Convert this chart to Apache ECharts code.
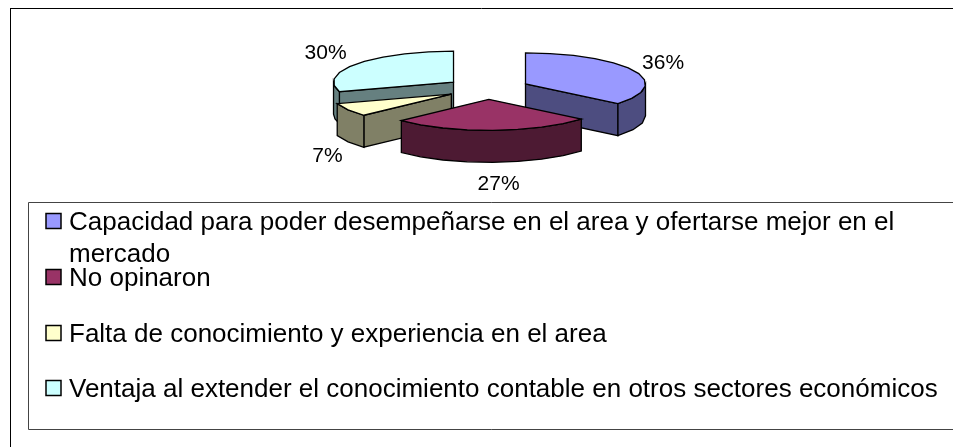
<!DOCTYPE html>
<html>
<head>
<meta charset="utf-8">
<style>
  html, body { margin: 0; padding: 0; background: #fff; }
  #chart { width: 953px; height: 447px; }
</style>
<script src="https://cdn.jsdelivr.net/npm/echarts@6/dist/echarts.min.js"></script>
</head>
<body>
<div id="chart"></div>
<script>
const categories = [
  'Capacidad para poder desempeñarse en el area y ofertarse mejor en el\nmercado',
  'No opinaron',
  'Falta de conocimiento y experiencia en el area',
  'Ventaja al extender el conocimiento contable en otros sectores económicos'
]
const shares = [36, 27, 7, 30]
const topColors = ['#9999ff', '#993366', '#ffffcc', '#ccffff']
const wallColors = ['#4d4d80', '#4d1a33', '#808066', '#668080']
const drawOrder = [3, 0, 2, 1] // back to front
const legendRows = [221, 277, 333, 388]
const labelNudge = [[0, 1], [5, 2], [7, 4], [-5, 1]]

const FONT = '"Liberation Sans", Arial, sans-serif'
const cx = 487.5
const cy = 88.5
const rx = 120
const ry = 31
const depth = 32
const explode = 42

const total = shares.reduce((a, b) => a + b, 0)
const toAngle = v => (v / total) * Math.PI * 2
const startAngles = shares.map((_, i) => toAngle(shares.slice(0, i).reduce((a, b) => a + b, 0)))

// a point of the tilted ellipse, angle counted clockwise from 12 o'clock
const rim = (ax, ay, a, dy = 0) => [ax + rx * Math.sin(a), ay - ry * Math.cos(a) + dy]

const arcPoints = (ax, ay, a0, a1, dy = 0) => {
  const n = Math.max(1, Math.round((a1 - a0) / (Math.PI / 15)))
  const pts = []
  for (let i = 0; i <= n; i++) pts.push(rim(ax, ay, a0 + ((a1 - a0) * i) / n, dy))
  return pts
}

const renderSlice = idx => (params, api) => {
  const a0 = startAngles[idx]
  const a1 = a0 + toAngle(api.value(0))
  const mid = (a0 + a1) / 2
  const ax = cx + explode * Math.sin(mid)
  const ay = cy - explode * (ry / rx) * Math.cos(mid)
  const children = []
  const style = { fill: wallColors[idx], stroke: '#000', lineWidth: 1.3 }

  // cut face that looks towards the viewer
  const cutAngles = [a0, a1].filter(a => Math.abs(Math.sin(a)) > 0.01)
  cutAngles.forEach(a => {
    const sideVisible = a === a1 ? a < Math.PI : a > Math.PI
    if (!sideVisible) return
    const p = rim(ax, ay, a)
    children.push({
      type: 'polygon',
      shape: { points: [[ax, ay], p, [p[0], p[1] + depth], [ax, ay + depth]] },
      style
    })
  })

  // outer wall, only the front half of the ellipse
  const w0 = Math.max(a0, Math.PI / 2)
  const w1 = Math.min(a1, (Math.PI * 3) / 2)
  if (w1 > w0) {
    const upper = arcPoints(ax, ay, w0, w1)
    const lower = arcPoints(ax, ay, w0, w1, depth).reverse()
    children.push({ type: 'polygon', shape: { points: upper.concat(lower) }, style })
  }

  // top face
  children.push({
    type: 'polygon',
    shape: { points: [[ax, ay]].concat(arcPoints(ax, ay, a0, a1)) },
    style: { fill: topColors[idx], stroke: '#000', lineWidth: 1.3 }
  })

  // percent label outside the rim
  const front = Math.cos(mid) < 0 ? depth : 0
  children.push({
    type: 'text',
    style: {
      x: ax + (rx + 32) * Math.sin(mid) + labelNudge[idx][0],
      y: ay - (ry + 20) * Math.cos(mid) + front + labelNudge[idx][1],
      text: api.value(0) + '%',
      font: '21px ' + FONT,
      fill: '#000',
      align: 'center',
      verticalAlign: 'middle'
    }
  })
  return { type: 'group', children }
}

const legendGraphics = categories.flatMap((name, i) => [
  {
    type: 'rect',
    shape: { x: 46, y: legendRows[i] - 7.5, width: 15, height: 15 },
    style: { fill: topColors[i], stroke: '#000', lineWidth: 1.5 }
  },
  {
    type: 'text',
    style: {
      x: 69,
      y: legendRows[i] - 14,
      text: name,
      font: '26px ' + FONT,
      lineHeight: 32,
      fill: '#000',
      verticalAlign: 'top'
    }
  }
])

const chart = echarts.init(document.getElementById('chart'))
chart.setOption({
  animation: false,
  backgroundColor: '#fff',
  graphic: [
    { type: 'line', shape: { x1: 10.5, y1: 9, x2: 10.5, y2: 447 }, style: { stroke: '#000', lineWidth: 1 } },
    { type: 'line', shape: { x1: 10, y1: 8.5, x2: 953, y2: 8.5 }, style: { stroke: '#000', lineWidth: 1 } },
    {
      type: 'rect',
      shape: { x: 28.5, y: 202.5, width: 960, height: 227 },
      style: { fill: '#fff', stroke: '#444', lineWidth: 1 }
    }
  ].concat(legendGraphics),
  series: drawOrder.map(idx => ({
    type: 'custom',
    name: categories[idx],
    coordinateSystem: 'none',
    silent: true,
    z: 10,
    data: [[shares[idx]]],
    renderItem: renderSlice(idx)
  }))
})
</script>
</body>
</html>
